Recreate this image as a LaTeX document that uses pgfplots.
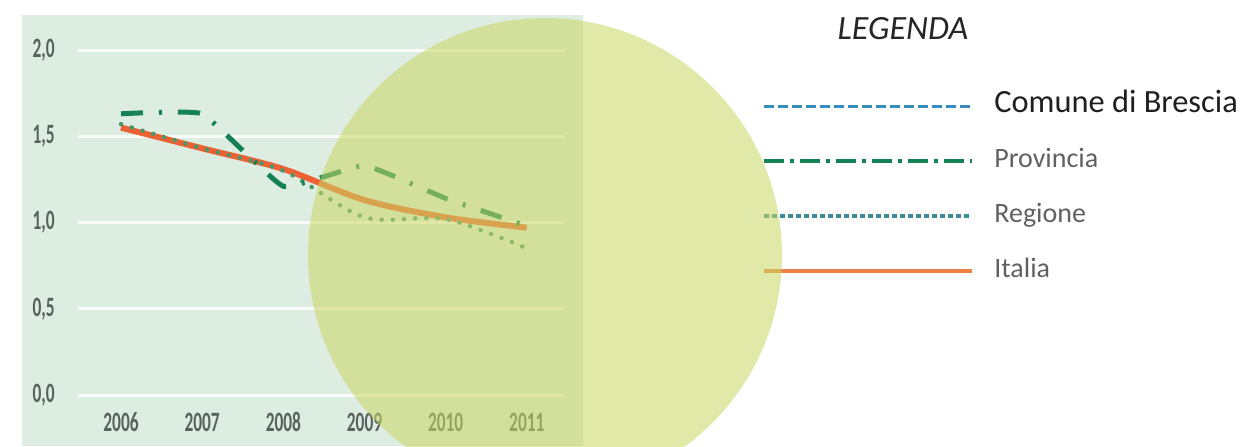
\documentclass[border=0pt]{standalone}
\usepackage{pgfplots}
\pgfplotsset{compat=1.18}
\usepackage{fontspec}
\setmainfont{Carlito}
\newfontfamily\tickfont[FakeStretch=0.62]{Carlito}

\definecolor{panel}{RGB}{221,237,226}
\definecolor{blob}{RGB}{202,215,100}
\definecolor{italia}{RGB}{236,98,52}
\definecolor{italialeg}{RGB}{238,130,70}
\definecolor{provincia}{RGB}{20,130,85}
\definecolor{regione}{RGB}{75,150,105}
\definecolor{regioneleg}{RGB}{60,140,155}
\definecolor{comune}{RGB}{55,140,190}
\definecolor{ticktext}{RGB}{88,98,94}

\begin{document}
\begin{tikzpicture}
\useasboundingbox (0,0) rectangle (621pt,223pt);
\fill[white] (0,0) rectangle (621pt,223pt);
\fill[panel] (11pt,0pt) rectangle (291.5pt,215.5pt);

\begin{axis}[
  at={(39pt,25.5pt)}, anchor=south west,
  scale only axis, width=243.5pt, height=172.5pt,
  xmin=2005.47, xmax=2011.47, ymin=0, ymax=2,
  clip=false,
  axis line style={draw=none},
  major tick length=0pt, tick style={draw=none},
  xtick={2006,2007,2008,2009,2010,2011},
  ytick={0,0.5,1,1.5,2},
  ymajorgrids,
  grid style={white, line width=1.5pt, opacity=0.85},
  /pgf/number format/assume math mode=true,
  xticklabel style={font=\tickfont\bfseries\fontsize{14}{14}\selectfont, text=ticktext,
    anchor=center, yshift=-13.5pt, /pgf/number format/1000 sep={}},
  yticklabel style={font=\tickfont\bfseries\fontsize{14}{14}\selectfont, text=ticktext,
    anchor=east, inner sep=0pt, xshift=-11.5pt,
    /pgf/number format/.cd, use comma, fixed, fixed zerofill, precision=1},
  legend image code/.code={\draw[#1] (0pt,0pt) -- (104pt,0pt);},
  legend cell align=left,
  legend style={at={(1.4045,0.872)}, anchor=north west, draw=none, fill=none,
    inner sep=0pt, row sep=16pt, column sep=10pt,
    font=\fontsize{14}{16}\selectfont, text=black!62,
    nodes={inner sep=0pt, text height=9pt, text depth=2.5pt}},
]
% legend samples
\addlegendimage{comune, line width=1.5pt, dash pattern=on 5pt off 2pt}
\addlegendentry{\fontsize{16.2}{18}\selectfont\color{black!88}Comune di Brescia}
\addlegendimage{provincia, line width=2pt, dash pattern=on 10pt off 3pt on 2pt off 3pt}
\addlegendentry{Provincia}
\addlegendimage{regioneleg, line width=1.8pt, dash pattern=on 2.5pt off 1.5pt}
\addlegendentry{Regione}
\addlegendimage{italialeg, line width=2pt}
\addlegendentry{Italia}

% Italia
\addplot[forget plot, italia, line width=3pt, smooth] coordinates {
  (2006,1.55) (2007,1.43) (2008,1.31) (2009,1.13) (2010,1.03) (2011,0.97)};
% Regione
\addplot[forget plot, regione, line width=2.2pt, smooth, line cap=round,
  dash pattern=on 0.1pt off 5.5pt] coordinates {
  (2006,1.57) (2007,1.43) (2008,1.30) (2009,1.03) (2010,1.02) (2011,0.85)};
% Provincia
\addplot[forget plot, provincia, line width=2.5pt, smooth, tension=0.2,
  dash pattern=on 11pt off 8pt on 1.5pt off 8pt] coordinates {
  (2006,1.63) (2007,1.63) (2008,1.21) (2009,1.33) (2010,1.14) (2011,0.98)};

\node[font=\fontsize{17}{19}\selectfont\itshape, text=black!85]
  at (axis description cs:1.694,1.061) {LEGENDA};
\end{axis}

\begin{scope}
\clip (0,0) rectangle (621pt,223pt);
\fill[blob, opacity=0.55] (272.5pt,95.5pt) circle (118.5pt);
\end{scope}
\end{tikzpicture}
\end{document}
